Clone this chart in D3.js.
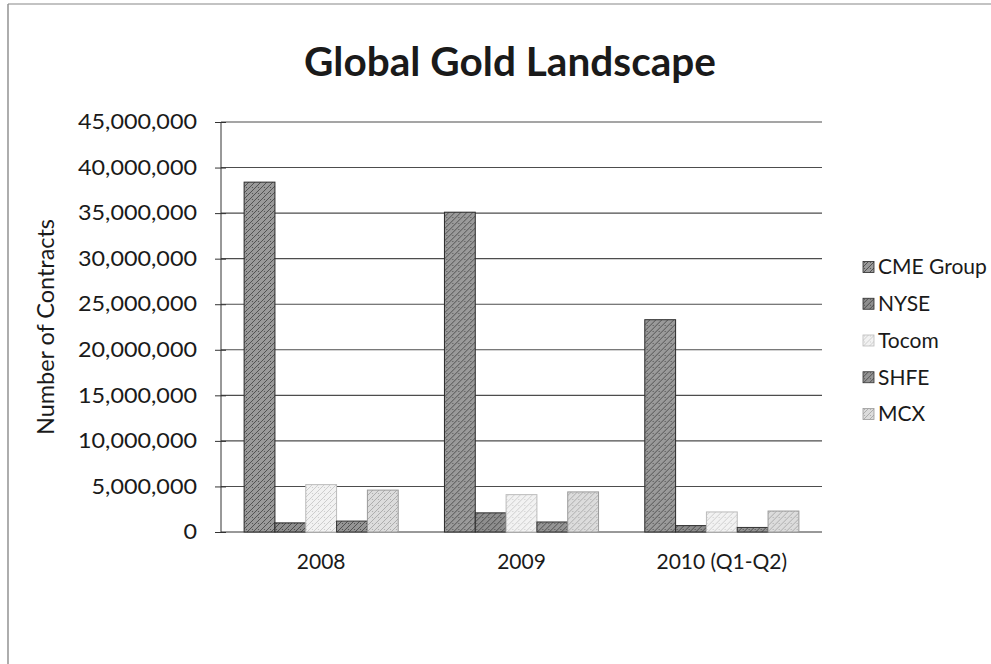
<!DOCTYPE html>
<html><head><meta charset="utf-8">
<script src="https://cdn.jsdelivr.net/npm/d3@7"></script>
<style>body{margin:0;background:#fff}svg{display:block}</style>
</head><body>
<svg id="c" width="991" height="664"></svg>
<script>
const categories = ["2008", "2009", "2010 (Q1-Q2)"];
const seriesNames = ["CME Group", "NYSE", "Tocom", "SHFE", "MCX"];
const cmeGroup = [38400000, 35100000, 23300000];
const nyse = [1000000, 2100000, 700000];
const tocom = [5200000, 4100000, 2200000];
const shfe = [1200000, 1100000, 500000];
const mcx = [4600000, 4400000, 2300000];
const yTicks = [0, 5000000, 10000000, 15000000, 20000000, 25000000, 30000000, 35000000, 40000000, 45000000];

const seriesValues = [cmeGroup, nyse, tocom, shfe, mcx];
const fills = ["#9a9a9a", "#8e8e8e", "#f2f2f2", "#959595", "#dcdcdc"];
const hatch = ["#4a4a4a", "#444", "#c8c8c8", "#4a4a4a", "#a8a8a8"];
const strokes = ["#2a2a2a", "#2a2a2a", "#bbbbbb", "#333", "#9a9a9a"];

const svg = d3.select("#c");
const font = "Lato, 'Open Sans', sans-serif";

svg.append("line").attr("x1",8).attr("x2",8).attr("y1",4).attr("y2",664).attr("stroke","#777").attr("stroke-width",1.2);
svg.append("line").attr("x1",8).attr("x2",991).attr("y1",4).attr("y2",4).attr("stroke","#888").attr("stroke-width",1.2);

const defs = svg.append("defs");
seriesNames.forEach((n,i)=>{
  const p = defs.append("pattern").attr("id","p"+i).attr("patternUnits","userSpaceOnUse")
    .attr("width",6).attr("height",6);
  p.append("rect").attr("width",6).attr("height",6).attr("fill",fills[i]);
  p.append("path").attr("d","M0,6 L6,0 M-1,1 L1,-1 M5,7 L7,5").attr("stroke",hatch[i]).attr("stroke-width",0.9);
  p.append("circle").attr("cx",1.5).attr("cy",1.5).attr("r",0.6).attr("fill",hatch[i]);
});

const pL = 221, pR = 822, pT = 122, pB = 532;
const x0 = d3.scaleBand().domain(categories).range([pL, pR]);
const barW = x0.bandwidth()/6.5;
const y = d3.scaleLinear().domain([0, 45000000]).range([pB, pT]);

svg.append("g").selectAll("line").data(yTicks.filter(d=>d>0)).join("line")
  .attr("x1",pL).attr("x2",pR).attr("y1",d=>y(d)).attr("y2",d=>y(d))
  .attr("stroke","#4d4d4d").attr("stroke-width",1.1);

const yAxis = d3.axisLeft(y).tickValues(yTicks).tickSize(6).tickPadding(18)
  .tickFormat(d3.format(","));
const gy = svg.append("g").attr("transform",`translate(${pL},0)`).call(yAxis);
gy.select(".domain").attr("stroke","#333").attr("d",`M0,${pT}V${pB}`);
gy.selectAll(".tick line").attr("stroke","#333").attr("x1",5);
gy.selectAll("text").attr("font-family",font).attr("font-size",21).attr("fill","#1a1a1a");
{
  const nodes = gy.selectAll("text").nodes();
  const widest = d3.max(nodes, n=>n.getComputedTextLength());
  const k = 119 / widest;
  nodes.forEach(n=>{ n.setAttribute("textLength", n.getComputedTextLength()*k); n.setAttribute("lengthAdjust","spacingAndGlyphs"); });
}

const xAxis = d3.axisBottom(x0).tickSize(0).tickPadding(22);
const gx = svg.append("g").attr("transform",`translate(0,${pB})`).call(xAxis);
gx.select(".domain").attr("stroke","#333").attr("d",`M${pL},0H${pR}`);
gx.selectAll("text").attr("font-family",font).attr("font-size",21).attr("fill","#1a1a1a");

const groups = svg.append("g").selectAll("g").data(categories).join("g")
  .attr("transform",d=>`translate(${x0(d)},0)`);
groups.selectAll("rect").data((c,ci)=>seriesNames.map((s,si)=>({s,si,v:seriesValues[si][ci]}))).join("rect")
  .attr("x",d=>x0.bandwidth()*0.75/6.5 + d.si*barW)
  .attr("width",barW)
  .attr("y",d=>y(d.v)).attr("height",d=>pB-y(d.v))
  .attr("fill",d=>`url(#p${d.si})`).attr("stroke",d=>strokes[d.si]).attr("stroke-width",1);

svg.append("text").attr("x",510).attr("y",76).attr("text-anchor","middle")
  .attr("font-family",font).attr("font-weight","bold").attr("font-size",40).attr("fill","#1a1a1a")
  .attr("textLength",412).attr("lengthAdjust","spacingAndGlyphs")
  .text("Global Gold Landscape");

svg.append("text").attr("transform",`translate(54,${(pT+pB)/2}) rotate(-90)`).attr("text-anchor","middle")
  .attr("font-family",font).attr("font-size",23).attr("fill","#1a1a1a")
  .attr("textLength",216).attr("lengthAdjust","spacingAndGlyphs")
  .text("Number of Contracts");

const ly = d3.scalePoint().domain(seriesNames).range([267, 414]);
const lg = svg.append("g").selectAll("g").data(seriesNames).join("g")
  .attr("transform",d=>`translate(863,${ly(d)})`);
lg.append("rect").attr("x",0).attr("y",-5.5).attr("width",11).attr("height",11)
  .attr("fill",(d,i)=>`url(#p${i})`).attr("stroke",(d,i)=>strokes[i]).attr("stroke-width",0.8);
lg.append("text").attr("x",15).attr("y",0).attr("dy","0.35em")
  .attr("font-family",font).attr("font-size",21).attr("fill","#1a1a1a").text(d=>d);
</script>
</body></html>
